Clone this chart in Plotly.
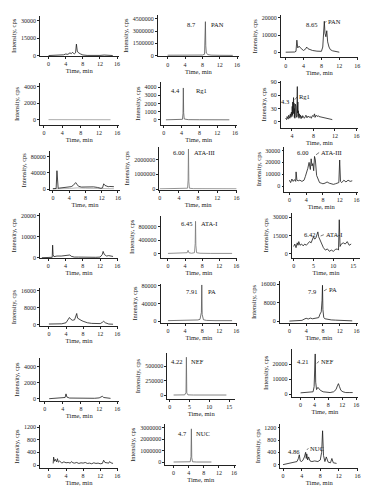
import plotly.graph_objects as go

FONT = "Liberation Serif"
W, H = 376, 500

# ---------------- data (time in min, intensity in cps) ----------------
p11_x = [0, 1, 2, 3, 3.5, 4, 4.5, 5, 5.3, 5.6, 6, 6.3, 6.5, 6.7, 7, 7.5, 8, 9, 10, 11, 12, 13, 14, 15]
p11_y = [200, 300, 400, 500, 800, 1500, 1200, 2500, 1800, 3000, 1500, 2500, 10000, 4000, 2500, 1500, 700, 300, 200, 150, 300, 600, 400, 200]

p12_x = [0, 2, 4, 6, 8, 8.5, 8.62, 8.7, 8.78, 8.9, 9.3, 10, 12, 14, 15]
p12_y = [30000, 50000, 80000, 60000, 50000, 150000, 1500000, 4150000, 1200000, 300000, 100000, 40000, 20000, 10000, 10000]

p13_x = [0, 1, 2, 2.3, 2.5, 2.7, 3.0, 3.5, 4, 4.5, 4.7, 5, 5.5, 6, 7, 8, 8.3, 8.5, 8.65, 8.8, 9.0, 9.2, 9.4, 9.7, 10, 10.5, 11, 12]
p13_y = [0, 0, 100, 500, 7000, 2500, 3500, 2000, 1000, 2000, 3000, 2000, 1500, 1000, 600, 500, 3000, 12000, 18000, 11000, 9000, 12500, 6000, 3000, 1500, 800, 500, 0]

p21_x = [1, 3, 5, 7, 9, 11, 13, 14.5]
p21_y = [20, 10, 30, 20, 40, 30, 20, 10]

p22_x = [0.5, 2, 3.5, 4.2, 4.33, 4.4, 4.47, 4.6, 5.5, 8, 10, 12, 14.7]
p22_y = [0, 10, 20, 60, 800, 3900, 900, 100, 20, 10, 10, 10, 0]

p23_x = [2.8, 3.0, 3.1, 3.3, 3.4, 3.6, 3.7, 3.8, 3.9, 4.0, 4.05, 4.1, 4.15, 4.2, 4.25,
         4.3, 4.35, 4.4, 4.45, 4.5, 4.55, 4.6, 4.65, 4.7, 4.75, 4.8, 4.85, 4.9, 4.95, 5.0,
         5.05, 5.1, 5.15, 5.2, 5.3, 5.4, 5.5, 5.6, 5.7, 5.8, 5.9, 6.0, 6.2, 6.3, 6.5,
         6.6, 6.8, 7.0, 7.2, 7.4, 7.6, 7.8, 8.0, 8.2, 8.3, 8.5, 8.7, 8.9, 9.0, 11.5]
p23_y = [8, 5, 12, 6, 15, 8, 18, 10, 22, 12, 35, 15, 45, 20, 38,
         55, 18, 42, 10, 30, 8, 25, 40, 12, 35, 15, 48, 10, 30, 80,
         20, 45, 12, 25, 8, 18, 10, 15, 7, 12, 9, 14, 10, 8, 12,
         15, 9, 13, 10, 12, 8, 14, 12, 18, 10, 15, 12, 14, 12, 5]

p31_x = [0, 0.8, 1.0, 1.1, 1.3, 1.6, 2, 3, 4, 4.5, 5, 5.3, 5.6, 5.9, 6.3, 7, 8, 9, 10, 11, 11.8, 12.2, 12.5, 12.8, 13.2, 13.6, 14, 14.5, 15]
p31_y = [1000, 1500, 45000, 8000, 2000, 2500, 3000, 4000, 5000, 6000, 9000, 14000, 16000, 12000, 7000, 5000, 5500, 6000, 5500, 4000, 2000, 3000, 13000, 9000, 7000, 6000, 6500, 6000, 6000]
p31b_x = [0, 1, 2, 4, 6, 8, 10, 12, 15]
p31b_y = [500, 1500, 1000, 1500, 3000, 2000, 1500, 1000, 1000]

p32_x = [0, 2, 4, 5, 5.8, 5.92, 6.0, 6.08, 6.2, 7, 9, 12, 16]
p32_y = [20000, 20000, 30000, 30000, 60000, 600000, 2700000, 500000, 60000, 30000, 20000, 20000, 20000]

p33_x = [0, 0.3, 0.6, 0.9, 1.2, 1.5, 1.6, 1.8, 2.1, 2.5, 3, 3.5, 3.8, 4.1, 4.4, 4.7, 5.0, 5.2, 5.4, 5.6, 5.8, 6.0,
         6.2, 6.5, 6.8, 7.2, 7.6, 8, 8.5, 9, 9.5, 10, 10.5, 11, 11.5, 11.8, 12.0, 12.2, 12.5, 13, 13.5, 14, 14.5, 15]
p33_y = [5000, 3000, 6000, 4000, 5500, 4000, 12000, 5000, 4500, 5000, 4000, 5000, 8000, 11000, 15000, 20000, 14000, 23000, 17000, 19000, 13000, 25000,
         22000, 9000, 6000, 3000, 2500, 2000, 2500, 3500, 2500, 2000, 1500, 2000, 2500, 3000, 22000, 4000, 3000, 5000, 3500, 5000, 4000, 4500]

p41_x = [-1.5, 0.5, 0.9, 1.0, 1.1, 1.3, 2, 3, 4, 5, 5.3, 6, 7, 8, 9, 10, 11, 12, 12.5, 12.7, 13, 13.5, 14, 15]
p41_y = [0, 0, 200, 6000, 1500, 500, 800, 800, 900, 1300, 700, 300, 300, 200, 200, 200, 200, 300, 1500, 3000, 1500, 800, 1000, 600]

p42_x = [0, 2, 4, 4.5, 4.7, 4.9, 5.5, 6.2, 6.37, 6.45, 6.53, 6.7, 7.5, 10, 13, 15]
p42_y = [10000, 10000, 15000, 30000, 100000, 30000, 15000, 30000, 300000, 950000, 250000, 30000, 15000, 10000, 10000, 10000]

p43_x = [0, 0.3, 0.6, 0.9, 1.1, 1.3, 1.6, 2, 2.4, 2.8, 3.2, 3.6, 4, 4.4, 4.8, 5.0, 5.3, 5.6, 5.9, 6.1,
         6.3, 6.6, 7, 7.5, 8, 8.5, 9, 9.5, 10, 10.5, 11, 11.3, 11.5, 11.7, 12, 12.5, 13, 13.5, 14, 14.5]
p43_y = [6000, 8000, 5000, 9000, 7000, 10000, 7000, 8000, 6500, 8000, 7000, 9000, 10000, 9000, 13000, 14000, 12000, 13000, 16000, 18000,
         14000, 12000, 8000, 5000, 3000, 4000, 2000, 3000, 2000, 3500, 4000, 3000, 28000, 6000, 8000, 9000, 8000, 10000, 7000, 8000]

p51_x = [0, 1, 2, 3, 4, 4.5, 4.8, 5.1, 5.5, 6, 6.3, 6.5, 6.7, 7, 7.5, 8, 9, 10, 11, 12, 12.5, 12.8, 13.2, 14, 15]
p51_y = [200, 200, 300, 300, 800, 2500, 3300, 2500, 2000, 2200, 3500, 5200, 3000, 2500, 2000, 1500, 800, 500, 300, 400, 1000, 1500, 800, 200, 100]

p52_x = [0, 2, 4, 6, 7, 7.5, 7.82, 7.91, 8.0, 8.3, 9, 11, 13, 15]
p52_y = [1000, 1000, 1500, 1500, 2500, 4000, 20000, 82000, 15000, 3000, 1500, 1000, 1000, 1000]

p53_x = [0, 1, 2, 3, 3.5, 4, 4.5, 5, 5.5, 6, 6.5, 7, 7.3, 7.6, 7.8, 7.9, 8.0, 8.2, 8.5, 9, 10, 11, 12, 13, 14, 15]
p53_y = [0, 100, 200, 300, 800, 1200, 900, 1300, 1000, 1200, 1300, 1500, 3000, 4000, 9000, 15500, 5000, 1500, 1000, 800, 500, 400, 300, 200, 200, 100]

p61_x = [1, 2, 3, 4, 4.5, 4.7, 4.9, 5.5, 7, 9, 11, 12, 12.5, 12.7, 13, 14, 14.5]
p61_y = [0, 20, 30, 50, 150, 600, 200, 80, 50, 40, 50, 100, 250, 300, 150, 60, 40]

p62_x = [1, 3, 3.8, 4.12, 4.22, 4.32, 4.6, 6, 8, 10, 12, 14.3]
p62_y = [5000, 5000, 8000, 50000, 650000, 40000, 8000, 5000, 5000, 5000, 5000, 5000]

p63_x = [0, 1, 2, 3, 3.6, 3.9, 4.05, 4.21, 4.35, 4.6, 5.0, 5.3, 5.7, 6.5, 7.5, 8.5, 9.5, 10.2, 10.6, 10.9, 11.2, 11.6, 12.2, 13, 14, 15]
p63_y = [800, 900, 1000, 1000, 1500, 5000, 15000, 27000, 8000, 3000, 4500, 3500, 2500, 1500, 1000, 1000, 1500, 3000, 5500, 7000, 5000, 2500, 1500, 1000, 1000, 1000]

p71_x = [1, 1.1, 1.3, 1.5, 1.8, 2.0, 2.2, 2.5, 3, 3.5, 4, 4.5, 5, 5.3, 5.6, 6, 6.5, 7, 7.5, 8,
         8.5, 9, 9.5, 10, 10.5, 11, 11.5, 12, 12.5, 12.8, 13.1, 13.5, 14, 14.2, 14.5, 15]
p71_y = [50, 250, 120, 180, 100, 200, 90, 130, 60, 100, 70, 80, 60, 110, 70, 60, 80, 50, 70, 60,
         80, 50, 60, 40, 70, 50, 60, 40, 50, 150, 80, 70, 60, 110, 70, 50]

p72_x = [0, 2, 3.5, 4.4, 4.6, 4.7, 4.8, 5.0, 6, 8, 10]
p72_y = [30000, 30000, 30000, 50000, 500000, 2900000, 400000, 50000, 30000, 30000, 30000]

p73_x = [0, 1, 2, 3, 3.3, 3.5, 3.7, 4, 4.3, 4.6, 4.86, 5.0, 5.1, 5.3, 5.5, 5.8, 6.2, 6.8, 7.5, 8,
         8.3, 8.5, 8.7, 9, 9.3, 9.7, 10.2, 10.5, 10.8, 11.2, 11.5]
p73_y = [0, 30, 60, 100, 200, 320, 120, 100, 150, 250, 400, 200, 350, 150, 250, 120, 100, 120, 100, 150,
         400, 1100, 300, 100, 250, 80, 60, 200, 60, 50, 40]

# tick values
xt_16 = [0, 4, 8, 12, 16]
xt_4_16 = [4, 8, 12, 16]
xt_15 = [0, 5, 10, 15]
yt = {
    "p11": [0, 15000, 30000], "p12": [0, 1500000, 3000000, 4500000], "p13": [0, 10000, 20000],
    "p21": [0, 2000, 4000], "p22": [0, 1000, 2000, 3000, 4000], "p23": [0, 30, 60, 90],
    "p31": [0, 40000, 80000], "p32": [0, 1000000, 2000000], "p33": [0, 10000, 20000, 30000],
    "p41": [0, 10000, 20000], "p42": [0, 400000, 800000], "p43": [0, 15000, 30000],
    "p51": [0, 8000, 16000], "p52": [0, 40000, 80000], "p53": [0, 8000, 16000],
    "p61": [0, 2000, 4000], "p62": [0, 250000, 500000], "p63": [0, 10000, 20000],
    "p71": [0, 400, 800, 1200], "p72": [0, 1000000, 2000000, 3000000], "p73": [0, 400, 800, 1200],
}
xt = {k: xt_16 for k in yt}
xt["p23"] = xt_4_16
xt["p43"] = xt_15
xt["p62"] = xt_15

# peak labels: (retention time text, right edge x, y, compound, left edge x, y)
peak_labels = {
    "p12": ("8.7", 7.09, 3770000, "PAN", 9.44, 3770000),
    "p13": ("8.65", 7.56, 16400, "PAN", 9.1, 18100),
    "p22": ("4.4", 4.07, 3550, "Rg1", 6.89, 3550),
    "p23": ("4.3", 3.76, 47, "Rg1", 5.0, 57),
    "p32": ("6.00", 5.53, 2470000, "ATA-III", 6.77, 2470000),
    "p33": ("6.00", 4.97, 28300, "ATA-III", 7.1, 28300),
    "p42": ("6.45", 6.19, 878000, "ATA-I", 7.19, 878000),
    "p43": ("6.42", 5.83, 15700, "ATA-I", 7.6, 15700),
    "p52": ("7.91", 7.19, 66500, "PA", 8.91, 66500),
    "p53": ("7.9", 6.93, 12700, "PA", 8.9, 13800),
    "p62": ("4.22", 3.7, 574000, "NEF", 4.95, 574000),
    "p63": ("4.21", 2.77, 22000, "NEF", 5.3, 22000),
    "p72": ("4.7", 4.02, 2490000, "NUC", 5.51, 2490000),
    "p73": ("4.86", 4.05, 428, "NUC", 5.45, 534),
}
# small leader lines for the sample panels: (peak x, name label key)
leaders = {"p13": 8.65, "p23": 4.3, "p33": 6.0, "p43": 6.42, "p53": 7.9, "p63": 4.21, "p73": 4.86}

# ---------------- layout geometry (pixels) ----------------
# left, right, top, bottom, px of x=0, px per min, px of y=0, px of ref, ref value
geom = {
    "p11": (39.3, 118.5, 14, 54.5, 48, 4.31, 54.3, 19, 30000),
    "p12": (158, 240, 13, 55, 168, 4.375, 54, 17, 4500000),
    "p13": (282, 360, 13.3, 56, 287, 4.5, 50.7, 16, 20000),
    "p21": (39.3, 118.5, 82, 124, 43.3, 4.625, 119, 85.3, 4000),
    "p22": (161, 237.5, 81, 124.3, 164, 4.5, 119, 86, 4000),
    "p23": (282, 360, 80, 127, 271.6, 5.42, 121, 81, 90),
    "p31": (49.3, 120, 150, 190, 52.3, 4.1, 189, 156, 80000),
    "p32": (159.5, 238, 146.7, 189.5, 160, 4.83, 189, 159, 2000000),
    "p33": (285.7, 360, 146, 191.7, 290.7, 4.225, 186, 150, 30000),
    "p41": (39.3, 118, 213, 258.7, 47.7, 4.35, 258.3, 216, 20000),
    "p42": (161, 238, 216, 258.3, 168.3, 4.31, 254.3, 226.7, 800000),
    "p43": (293.3, 362, 213, 258.3, 295, 4.0, 254.3, 217.5, 30000),
    "p51": (39.3, 118, 289, 327.3, 48.3, 4.31, 325.7, 291.7, 16000),
    "p52": (161, 238, 285, 324, 168.3, 4.31, 322.3, 286.7, 80000),
    "p53": (281, 360, 282, 324, 290.7, 4.225, 322.3, 285, 16000),
    "p61": (39.3, 118.5, 360, 402.7, 44, 4.58, 400.7, 368.3, 4000),
    "p62": (167.7, 236, 355, 400.7, 170, 4.0, 397.3, 367.7, 500000),
    "p63": (293, 360, 350, 399, 302, 3.5, 396, 366, 20000),
    "p71": (39.3, 118, 427, 471, 48.3, 4.31, 467.7, 429.3, 1200),
    "p72": (165.7, 237, 426.7, 467.7, 174, 3.81, 465, 430, 3000000),
    "p73": (281.7, 360, 426, 471, 284.3, 4.69, 467.3, 430, 1200),
}

series = {
    "p11": [(p11_x, p11_y, "#1a1a1a")],
    "p12": [(p12_x, p12_y, "#555555")],
    "p13": [(p13_x, p13_y, "#1a1a1a")],
    "p21": [(p21_x, p21_y, "#999999")],
    "p22": [(p22_x, p22_y, "#555555")],
    "p23": [(p23_x, p23_y, "#1a1a1a")],
    "p31": [(p31b_x, p31b_y, "#aaaaaa"), (p31_x, p31_y, "#1a1a1a")],
    "p32": [(p32_x, p32_y, "#777777")],
    "p33": [(p33_x, p33_y, "#1a1a1a")],
    "p41": [(p41_x, p41_y, "#1a1a1a")],
    "p42": [(p42_x, p42_y, "#777777")],
    "p43": [(p43_x, p43_y, "#1a1a1a")],
    "p51": [(p51_x, p51_y, "#1a1a1a")],
    "p52": [(p52_x, p52_y, "#555555")],
    "p53": [(p53_x, p53_y, "#1a1a1a")],
    "p61": [(p61_x, p61_y, "#1a1a1a")],
    "p62": [(p62_x, p62_y, "#666666")],
    "p63": [(p63_x, p63_y, "#1a1a1a")],
    "p71": [(p71_x, p71_y, "#1a1a1a")],
    "p72": [(p72_x, p72_y, "#666666")],
    "p73": [(p73_x, p73_y, "#1a1a1a")],
}

order = ["p11", "p12", "p13", "p21", "p22", "p23", "p31", "p32", "p33",
         "p41", "p42", "p43", "p51", "p52", "p53", "p61", "p62", "p63",
         "p71", "p72", "p73"]

fig = go.Figure()
layout = {}
annotations = []
tickfont = dict(family=FONT, size=6, color="#222")
lblfont = dict(family=FONT, size=6.5, color="#111")

for i, key in enumerate(order, start=1):
    sfx = "" if i == 1 else str(i)
    l, r, t, b, x0, xs, y0, y1px, y1v = geom[key]
    ys = (y0 - y1px) / y1v
    xr = [(l - x0) / xs, (r - x0) / xs]
    yr = [(y0 - b) / ys, (y0 - t) / ys]
    for xs_, ys_, col in series[key]:
        fig.add_trace(go.Scatter(x=xs_, y=ys_, mode="lines", xaxis="x" + sfx, yaxis="y" + sfx,
                                 line=dict(color=col, width=0.8), showlegend=False, hoverinfo="skip"))
    common = dict(showline=True, linecolor="#222", linewidth=0.8, ticks="outside", ticklen=2,
                  tickwidth=0.6, tickcolor="#222", showgrid=False, zeroline=False,
                  tickfont=tickfont, fixedrange=True)
    layout["xaxis" + sfx] = dict(domain=[l / W, r / W], range=xr, anchor="y" + sfx,
                                 tickvals=xt[key], ticktext=[str(v) for v in xt[key]],
                                 title=dict(text="Time, min", font=dict(family=FONT, size=6.5, color="#222"), standoff=2),
                                 **common)
    layout["yaxis" + sfx] = dict(domain=[1 - b / H, 1 - t / H], range=yr, anchor="x" + sfx,
                                 tickvals=yt[key], ticktext=[str(v) for v in yt[key]],
                                 title=dict(text="Intensity, cps", font=dict(family=FONT, size=6.5, color="#222"), standoff=3),
                                 **common)
    if key in peak_labels:
        rt, rx, ry, nm, nx, ny = peak_labels[key]
        annotations.append(dict(x=rx, y=ry, xref="x" + sfx, yref="y" + sfx, text=rt, showarrow=False,
                                xanchor="right", yanchor="middle", font=lblfont))
        annotations.append(dict(x=nx, y=ny, xref="x" + sfx, yref="y" + sfx, text=nm, showarrow=False,
                                xanchor="left", yanchor="middle", font=lblfont))
        if key in leaders:
            px = leaders[key]
            # short leader from the peak (tail) to the compound name (tip)
            annotations.append(dict(x=nx, y=ny, xref="x" + sfx, yref="y" + sfx, text="",
                                    showarrow=True, arrowhead=0, arrowwidth=0.6, arrowcolor="#222",
                                    ax=px, ay=ry * 0.9 if ny == ry else ry,
                                    axref="x" + sfx, ayref="y" + sfx, standoff=0, startstandoff=0))

fig.update_layout(width=W, height=H, margin=dict(l=0, r=0, t=0, b=0), plot_bgcolor="white",
                  paper_bgcolor="white", annotations=annotations, **layout)

fig.write_html("out.html", config={"displayModeBar": False},
               post_script="document.body.style.margin='0';")
